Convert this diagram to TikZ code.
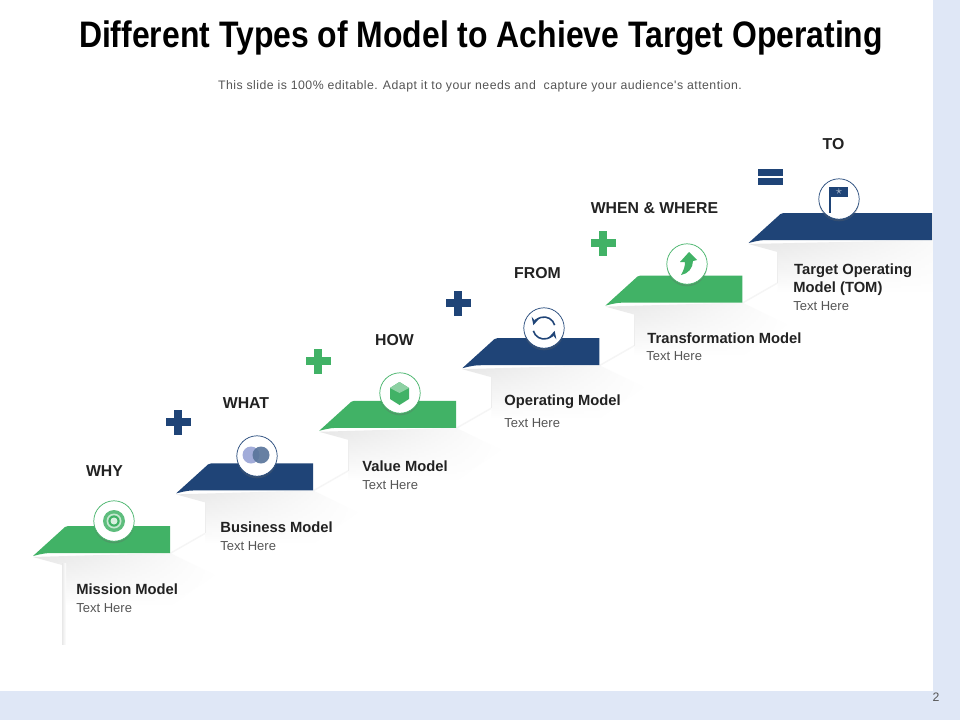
\documentclass[tikz,border=0pt]{standalone}
\usepackage{fontspec}
\setmainfont{Liberation Sans}
\newfontfamily\titlefont[FakeStretch=0.865]{Liberation Sans}
\newfontfamily\subfont[LetterSpace=3.8]{Liberation Sans}
\usetikzlibrary{shadows,fadings}
\definecolor{stepgreen}{HTML}{41B266}
\definecolor{stepblue}{HTML}{1F4477}
\definecolor{strip}{HTML}{DFE7F6}
\definecolor{inktext}{HTML}{222222}
\definecolor{softtext}{HTML}{555555}
\tikzset{
    headlabel/.style={font=\fontsize{9}{11}\selectfont\bfseries, text=inktext, inner sep=0pt},
    namelabel/.style={font=\fontsize{8.4}{10.4}\selectfont\bfseries, text=inktext, inner sep=0pt, anchor=west, align=left},
    herelabel/.style={font=\fontsize{7.4}{9}\selectfont, text=softtext, inner sep=0pt, anchor=west},
    iconcircle/.style={circle, draw=#1, fill=white, line width=0.4pt, minimum size=23pt, inner sep=0pt,
        drop shadow={shadow xshift=0pt, shadow yshift=-1.2pt, opacity=0.3, fill=black!60}},
    refreshline/.style={stepblue, line width=0.9pt, ->, >=stealth},
}
\begin{document}
\begin{tikzpicture}[x=0.02cm, y=-0.02cm]
    \useasboundingbox (0,0) rectangle (960,720);
    \fill[white] (0,0) rectangle (960,720);
    % folds and shadows
    \foreach \n/\r in {0/170,1/170,2/170,3/170,4/170,5/216.5}{
        \begin{scope}[shift={({143.1*\n},{-62.6*\n})}]
            \ifnum\n=0
                \fill[white] (27,558) rectangle (62,642);
            \else
                \fill[white] (27,558) -- (62,558) -- (62,596) -- (27,616) -- cycle;
                \draw[black!4, line width=0.8pt] (62,596) -- (27,616);
            \fi
            \shade[top color=black!10, bottom color=white, path fading=east] (33,557) -- (\r,553) -- (\r+45,575) -- (\r,606) -- (62,606) -- (62,565) -- cycle;
            \ifnum\n=0
                \shade[left color=black!9, right color=white] (62,563) rectangle (66,644);
            \else
                \draw[black!7, line width=0.6pt] (62,563) -- (62,596);
            \fi
        \end{scope}
    }
    \fill[strip] (933,0) rectangle (960,720);
    \fill[strip] (0,691) rectangle (960,720);
    \node[text=softtext, font=\fontsize{7}{8}\selectfont, inner sep=0pt] (pagenum) at (936,697) {2};
    % title
    \node[font=\titlefont\fontsize{21}{24}\selectfont\bfseries, text=black, inner sep=0pt] (title) at (481,38) {Different Types of Model to Achieve Target Operating};
    \node[font=\subfont\fontsize{7}{8}\selectfont, text=softtext, inner sep=0pt] (subtitle) at (480,86) {This slide is 100\% editable. Adapt it to your needs and\ \ capture your audience's attention.};
    % steps
    \foreach \n/\c/\r in {0/stepgreen/170,1/stepblue/170,2/stepgreen/170,3/stepblue/170,4/stepgreen/170,5/stepblue/216.5}{
        \begin{scope}[shift={({143.1*\n},{-62.6*\n})}]
            \fill[\c] (33,556) -- (65,527) .. controls (66,526) .. (68,526) -- (\r,526) -- (\r,553) -- (60,553) .. controls (45,553) .. (33,556) -- cycle;
        \end{scope}
    }
    % icons
    \node[iconcircle=stepgreen] (missionicon) at (114,521) {};
    \node[iconcircle=stepblue] (businessicon) at (257,456) {};
    \node[iconcircle=stepgreen] (valueicon) at (400,393) {};
    \node[iconcircle=stepblue] (operatingicon) at (544,328) {};
    \node[iconcircle=stepgreen] (transformicon) at (687,264) {};
    \node[iconcircle=stepblue] (targeticon) at (839,199) {};
    % target
    \fill[stepgreen!85] (missionicon) circle (11);
    \fill[white!70!stepgreen] (missionicon) circle (7.5);
    \fill[stepgreen] (missionicon) circle (5.7);
    \fill[white!80!stepgreen] (missionicon) circle (3.5);
    % circles
    \fill[blue!30!stepblue!40] (251,455) circle (8.5);
    \fill[stepblue!75, opacity=0.9] (261,455) circle (8.5);
    % cube
    \fill[stepgreen] (399.5,382) -- (409,388) -- (409,399) -- (399.5,405) -- (390,399) -- (390,388) -- cycle;
    \fill[stepgreen!60] (399.5,382) -- (409,388) -- (399.5,393) -- (390,388) -- cycle;
    % refresh
    \draw[refreshline] (operatingicon.center) ++(-15:11) arc[start angle=-15, end angle=-165, radius=11];
    \draw[refreshline] (operatingicon.center) ++(165:11) arc[start angle=165, end angle=15, radius=11];
    % arrow
    \fill[stepgreen] (689,252) -- (697,260) -- (693,261) .. controls (693,268) and (688,274) .. (681,275) .. controls (684,270) and (685,266) .. (685,262) -- (680,262) -- cycle;
    % flag
    \fill[stepblue] (829,187) rectangle (831,213);
    \fill[stepblue] (831,187) rectangle (848,197);
    \node[font=\fontsize{7}{7}\selectfont, text=stepblue!40, inner sep=0pt] (flagstar) at (839,191.5) {$\star$};
    % plus signs
    \foreach \x/\y/\c in {178/422/stepblue,318/361/stepgreen,458/303/stepblue,603/243/stepgreen}{
        \fill[\c] (\x-12.5,\y-3.8) rectangle (\x+12.5,\y+3.8);
        \fill[\c] (\x-3.8,\y-12.5) rectangle (\x+3.8,\y+12.5);
    }
    % equals
    \fill[stepblue] (758,169) rectangle (783,176);
    \fill[stepblue] (758,178) rectangle (783,185);
    % heads
    \node[headlabel] (whylabel) at (104.5,471) {WHY};
    \node[headlabel] (whatlabel) at (246,403) {WHAT};
    \node[headlabel] (howlabel) at (394.5,340) {HOW};
    \node[headlabel] (fromlabel) at (537.5,273) {FROM};
    \node[headlabel] (whenlabel) at (654.5,208) {WHEN \& WHERE};
    \node[headlabel] (tolabel) at (833.5,144) {TO};
    % model names
    \node[namelabel] (missionname) at (76,589) {Mission Model};
    \node[herelabel] (missionhere) at (76,608) {Text Here};
    \node[namelabel] (businessname) at (220,527) {Business Model};
    \node[herelabel] (businesshere) at (220,546) {Text Here};
    \node[namelabel] (valuename) at (362,466) {Value Model};
    \node[herelabel] (valuehere) at (362,485) {Text Here};
    \node[namelabel] (operatingname) at (504,402) {Operating Model};
    \node[herelabel] (operatinghere) at (504,423) {Text Here};
    \node[namelabel] (transformname) at (647,338) {Transformation Model};
    \node[herelabel] (transformhere) at (646,356) {Text Here};
    \node[namelabel] (targetname) at (793,280) {\hspace*{0.5pt}Target Operating\\Model (TOM)};
    \node[herelabel] (targethere) at (793,306.5) {Text Here};
\end{tikzpicture}
\end{document}
